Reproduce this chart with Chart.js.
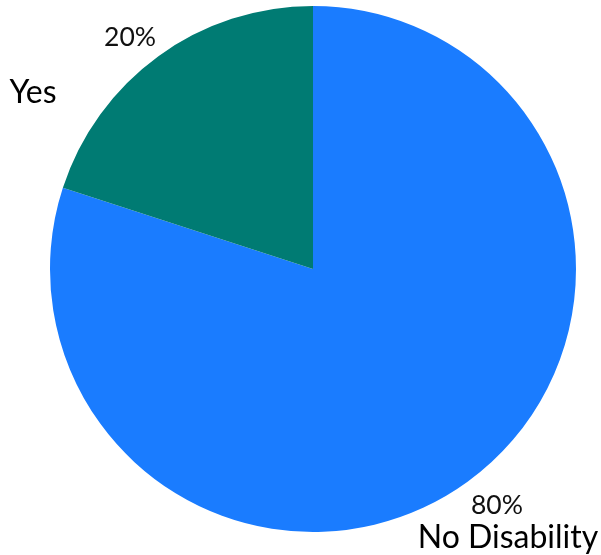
<!DOCTYPE html>
<html>
<head>
<meta charset="utf-8">
<script src="https://cdn.jsdelivr.net/npm/chart.js@4"></script>
<style>
  html, body { margin: 0; padding: 0; background: #ffffff; }
  #wrap { width: 601px; height: 555px; }
</style>
</head>
<body>
<div id="wrap"><canvas id="disabilityPie"></canvas></div>
<script>
// Slice data
const categories = ['No Disability', 'Yes'];
const shares = [80, 20];
const sliceColors = ['#1a7cff', '#007b73'];

// Draws the percent and the category name outside each slice
const outerLabels = {
  id: 'outerLabels',
  afterDatasetsDraw(chart, args, opts) {
    const ctx = chart.ctx;
    const meta = chart.getDatasetMeta(0);
    meta.data.forEach((arc, i) => {
      const mid = (arc.startAngle + arc.endAngle) / 2;
      const r = arc.outerRadius + opts.gap;
      const nudge = opts.nudge[i] || { x: 0, y: 0 };
      const px = arc.x + Math.cos(mid) * r + nudge.x;
      const py = arc.y + Math.sin(mid) * r + nudge.y;

      ctx.save();
      ctx.textAlign = 'center';
      ctx.textBaseline = 'middle';
      ctx.font = '26.5px Lato';
      ctx.fillStyle = '#111111';
      ctx.fillText(shares[i] + '%', px, py);

      const off = opts.nameOffset[i];
      ctx.font = '32px Lato';
      ctx.fillStyle = '#000000';
      ctx.fillText(categories[i], px + off.x, py + off.y);
      ctx.restore();
    });
  }
};

const ctx = document.getElementById('disabilityPie').getContext('2d');
new Chart(ctx, {
  type: 'pie',
  data: {
    labels: categories,
    datasets: [{
      data: shares,
      backgroundColor: sliceColors,
      borderWidth: 0
    }]
  },
  options: {
    responsive: true,
    maintainAspectRatio: false,
    animation: false,
    layout: { padding: { left: 50, right: 25, top: 6, bottom: 23 } },
    plugins: {
      legend: { display: false },
      tooltip: { enabled: false },
      outerLabels: {
        gap: 33,
        nudge: [{ x: 10, y: -3 }, { x: -9, y: 8 }],
        nameOffset: [{ x: 11, y: 32 }, { x: -97, y: 55 }]
      }
    }
  },
  plugins: [outerLabels]
});
</script>
</body>
</html>
